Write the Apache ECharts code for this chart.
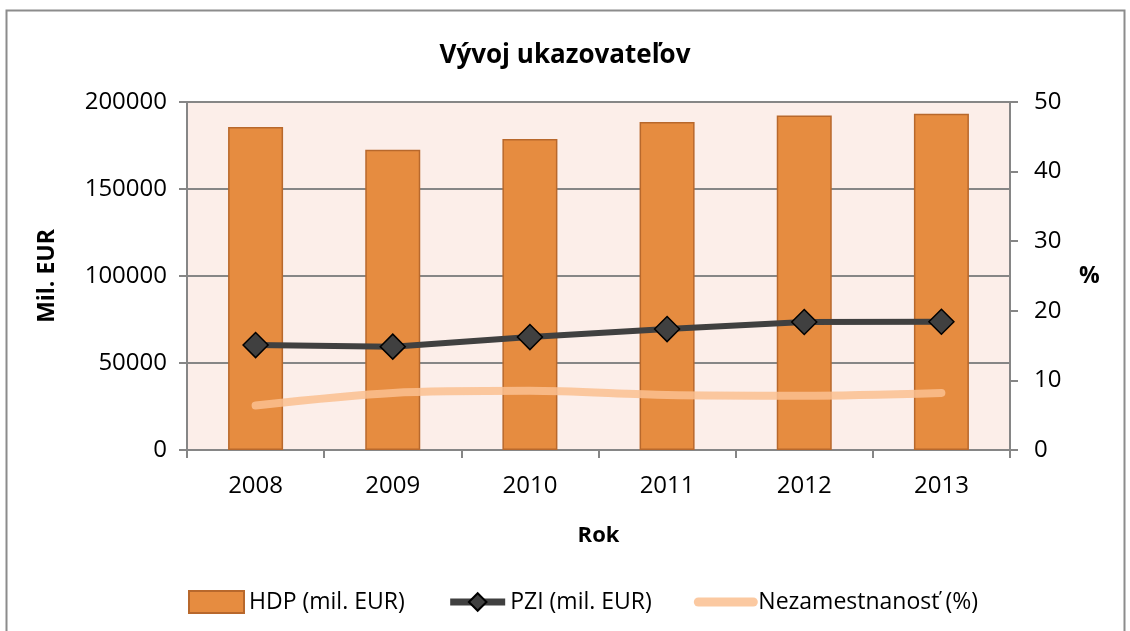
<!DOCTYPE html>
<html>
<head>
<meta charset="utf-8">
<script src="https://cdn.jsdelivr.net/npm/echarts@6/dist/echarts.min.js"></script>
<style>html,body{margin:0;padding:0;background:#fff}#c{width:1130px;height:631px}</style>
</head>
<body>
<div id="c"></div>
<script>
const categories = ['2008', '2009', '2010', '2011', '2012', '2013'];
const hdp = [185700, 172500, 178800, 188500, 192300, 193300];
const pzi = [60300, 59400, 64900, 69500, 73600, 73700];
const nezam = [6.4, 8.2, 8.5, 7.9, 7.8, 8.2];
const leftTicks = [0, 200000, 50000];
const rightTicks = [0, 50, 10];

const FONT = 'Open Sans';
const chart = echarts.init(document.getElementById('c'));
chart.setOption({
  animation: false,
  textStyle: { fontFamily: FONT, color: '#000' },
  title: {
    text: 'Vývoj ukazovateľov', left: 'center', top: 38,
    textStyle: { fontFamily: FONT, fontWeight: 'bold', fontSize: 26, color: '#000' }
  },
  graphic: [{
    type: 'rect', silent: true, z: -10,
    shape: { x: 6.5, y: 10.5, width: 1118, height: 700 },
    style: { fill: 'none', stroke: '#8c8c8c', lineWidth: 2 }
  }],
  grid: { left: 187, right: 120, top: 102, bottom: 181, show: true, backgroundColor: '#FCEEE9', borderWidth: 0 },
  legend: {
    top: 585, left: 183, itemGap: 42, itemWidth: 55, itemHeight: 22,
    textStyle: { fontFamily: FONT, fontSize: 23, color: '#000' },
    data: [
      { name: 'HDP (mil. EUR)', icon: 'rect' },
      { name: 'PZI (mil. EUR)', lineStyle: { width: 7 } },
      { name: 'Nezamestnanosť (%)', lineStyle: { width: 9 }, itemStyle: { opacity: 0 } }
    ]
  },
  xAxis: {
    type: 'category', data: categories, boundaryGap: true,
    name: 'Rok', nameLocation: 'middle', nameGap: 75,
    nameTextStyle: { fontFamily: FONT, fontWeight: 'bold', fontSize: 22, color: '#000' },
    axisLine: { lineStyle: { color: '#868686', width: 2 } },
    axisTick: { show: true, inside: false, length: 8, lineStyle: { color: '#868686', width: 2 } },
    axisLabel: { fontFamily: FONT, fontSize: 24, color: '#000', margin: 24 }
  },
  yAxis: [{
    type: 'value', min: leftTicks[0], max: leftTicks[1], interval: leftTicks[2],
    name: 'Mil. EUR', nameLocation: 'middle', nameGap: 128, nameRotate: 90,
    nameTextStyle: { fontFamily: FONT, fontWeight: 'bold', fontSize: 23, color: '#000' },
    axisLine: { show: true, lineStyle: { color: '#868686', width: 2 } },
    axisTick: { show: true, length: 8, lineStyle: { color: '#868686', width: 2 } },
    axisLabel: { fontFamily: FONT, fontSize: 24, color: '#000', margin: 20, formatter: v => String(v) },
    splitLine: { show: true, lineStyle: { color: '#868686', width: 2 } }
  }, {
    type: 'value', min: rightTicks[0], max: rightTicks[1], interval: rightTicks[2],
    position: 'right',
    name: '%', nameLocation: 'middle', nameGap: 69, nameRotate: 0,
    nameTextStyle: { fontFamily: FONT, fontWeight: 'bold', fontSize: 23, color: '#000' },
    axisLine: { show: true, lineStyle: { color: '#868686', width: 2 } },
    axisTick: { show: true, length: 8, lineStyle: { color: '#868686', width: 2 } },
    axisLabel: { fontFamily: FONT, fontSize: 24, color: '#000', margin: 24 },
    splitLine: { show: false }
  }],
  series: [{
    name: 'HDP (mil. EUR)', type: 'bar', data: hdp, yAxisIndex: 0, barWidth: 55,
    itemStyle: { color: '#E68C40', borderColor: '#B8682C', borderWidth: 1.5 }
  }, {
    name: 'PZI (mil. EUR)', type: 'line', data: pzi, yAxisIndex: 0,
    symbol: 'diamond', symbolSize: 25, z: 5,
    lineStyle: { color: '#404040', width: 6 },
    itemStyle: { color: '#404040', borderColor: '#000', borderWidth: 1.5 }
  }, {
    name: 'Nezamestnanosť (%)', type: 'line', data: nezam, yAxisIndex: 1,
    smooth: 0.3, symbol: 'none', z: 4,
    lineStyle: { color: 'rgba(250,192,144,0.85)', width: 8, cap: 'round' },
    itemStyle: { color: 'rgba(250,192,144,0.85)' }
  }]
});
</script>
</body>
</html>
